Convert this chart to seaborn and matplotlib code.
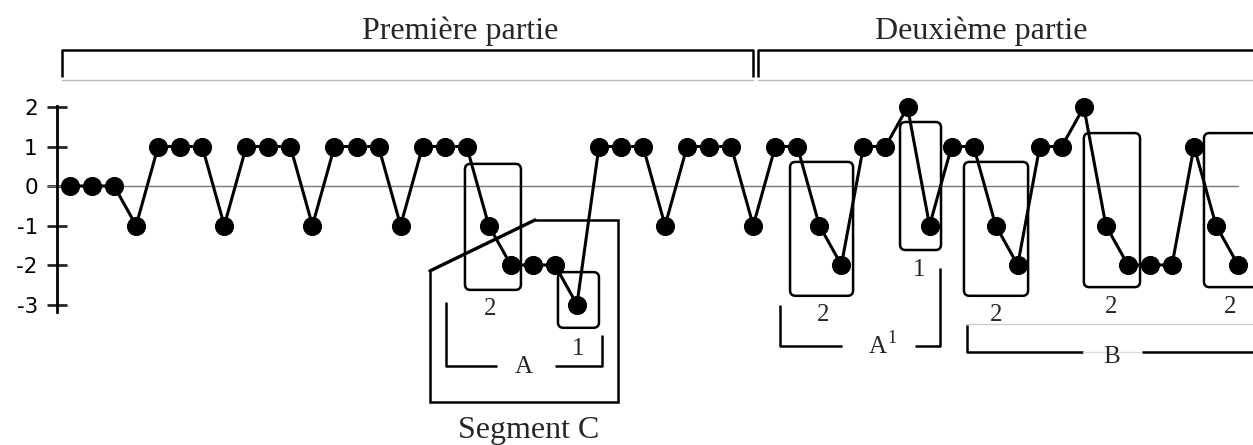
import pandas as pd
import matplotlib.pyplot as plt
import seaborn as sns
from matplotlib.patches import FancyBboxPatch, Polygon

# melodic contour values, one per note
contour = [0, 0, 0, -1, 1, 1, 1, -1, 1, 1, 1, -1, 1, 1, 1, -1,
           1, 1, 1, -1, -2, -2, -2, -3, 1, 1, 1, -1, 1, 1, 1, -1,
           1, 1, -1, -2, 1, 1, 2, -1, 1, 1, -1, -2, 1, 1, 2, -1,
           -2, -2, -2, 1, -1, -2]
y_ticks = [-3, -2, -1, 0, 1, 2]
part_labels = ['Première partie', 'Deuxième partie']
box_labels = ['2', '1', '2', '1', '2', '2', '2']

df = pd.DataFrame({'note': range(len(contour)), 'value': contour})

sns.set_style('white')
plt.rcParams['font.family'] = ['Liberation Serif', 'DejaVu Serif']

fig = plt.figure(figsize=(12.53, 4.45), dpi=100)
ax = fig.add_axes([0, 0, 1, 1])
ax.set_xlim(-3.176, 53.675)
ax.set_ylim(-6.557, 4.709)

# zero line
ax.plot([-1.0, 53.0], [0, 0], color='#777777', lw=1, zorder=1)

sns.lineplot(data=df, x='note', y='value', ax=ax, color='black', linewidth=2.2,
             marker='o', markersize=13, markeredgecolor='black', zorder=3)

# y axis
for s in ['top', 'right', 'bottom']:
    ax.spines[s].set_visible(False)
ax.spines['left'].set_position(('data', -0.59))
ax.spines['left'].set_bounds(-3.19, 2.03)
ax.spines['left'].set_linewidth(2)
ax.spines['left'].set_color('black')
ax.set_xticks([])
ax.set_yticks(y_ticks)
ax.set_yticklabels([str(t) for t in y_ticks])
ax.tick_params(axis='y', left=True, direction='inout', length=13.7, width=2, pad=7,
               labelsize=15.5, labelfontfamily='DejaVu Sans', labelcolor='black')
ax.set_xlabel('')
ax.set_ylabel('')

lw = 1.8
k = dict(color='black', lw=lw, solid_capstyle='butt')

# top brackets
ax.plot([-0.36, -0.36, 30.99, 30.99], [2.76, 3.44, 3.44, 2.76], **k)
ax.plot([31.22, 31.22, 55], [2.76, 3.44, 3.44], **k)
ax.plot([-0.36, 30.99], [2.68, 2.68], color='#bbbbbb', lw=1)
ax.plot([31.22, 55], [2.68, 2.68], color='#bbbbbb', lw=1)
ax.text(17.72, 3.72, part_labels[0], ha='center', va='baseline', fontsize=23)
ax.text(41.33, 3.72, part_labels[1], ha='center', va='baseline', fontsize=23)

# rounded boxes around motifs
boxes = [(17.92, 20.46, -2.63, 0.56), (22.14, 24.0, -3.59, -2.18),
         (32.67, 35.53, -2.78, 0.61), (37.66, 39.52, -1.62, 1.62),
         (40.56, 43.47, -2.78, 0.61), (46.0, 48.55, -2.56, 1.34),
         (51.45, 54.6, -2.56, 1.34)]
for x0, x1, y0, y1 in boxes:
    ax.add_patch(FancyBboxPatch((x0, y0), x1 - x0, y1 - y0,
                                boxstyle='round,pad=0,rounding_size=0.25',
                                mutation_aspect=22.04 / 39.5,
                                fill=False, ec='black', lw=lw, zorder=2))
label_pos = [(19.06, -3.27), (23.05, -4.28), (34.17, -3.42), (38.52, -2.28),
             (42.01, -3.42), (47.23, -3.22), (52.63, -3.22)]
for (x, y), t in zip(label_pos, box_labels):
    ax.text(x, y, t, ha='center', va='baseline', fontsize=18)

# segment C
ax.add_patch(Polygon([(21.1, -0.86), (24.86, -0.86), (24.86, -5.47),
                      (16.33, -5.47), (16.33, -2.15)], closed=False,
                     fill=False, ec='black', lw=lw))
ax.plot([16.33, 21.1], [-2.15, -0.86], color='black', lw=2.4)
ax.text(20.83, -6.38, 'Segment C', ha='center', va='baseline', fontsize=23)

# bracket A
ax.plot([17.06, 17.06, 19.37], [-2.94, -4.56, -4.56], **k)
ax.plot([22.0, 24.14, 24.14], [-4.56, -4.56, -3.77], **k)
ax.text(20.6, -4.73, 'A', ha='center', va='baseline', fontsize=18)

# bracket A1
ax.plot([32.21, 32.21, 35.03], [-3.01, -4.05, -4.05], **k)
ax.plot([38.34, 39.47, 39.47], [-4.05, -4.05, -2.08], **k)
ax.text(36.66, -4.23, 'A', ha='center', va='baseline', fontsize=18)
ax.text(37.3, -3.97, '1', ha='center', va='baseline', fontsize=13)

# bracket B
ax.plot([40.65, 55], [-3.49, -3.49], color='#cccccc', lw=1)
ax.plot([40.7, 40.7, 45.96], [-3.52, -4.2, -4.2], **k)
ax.plot([45.96, 48.64], [-4.2, -4.2], color='#dddddd', lw=1)
ax.plot([48.64, 55], [-4.2, -4.2], **k)
ax.text(47.28, -4.48, 'B', ha='center', va='baseline', fontsize=18)

plt.savefig('out.png', dpi=100)
